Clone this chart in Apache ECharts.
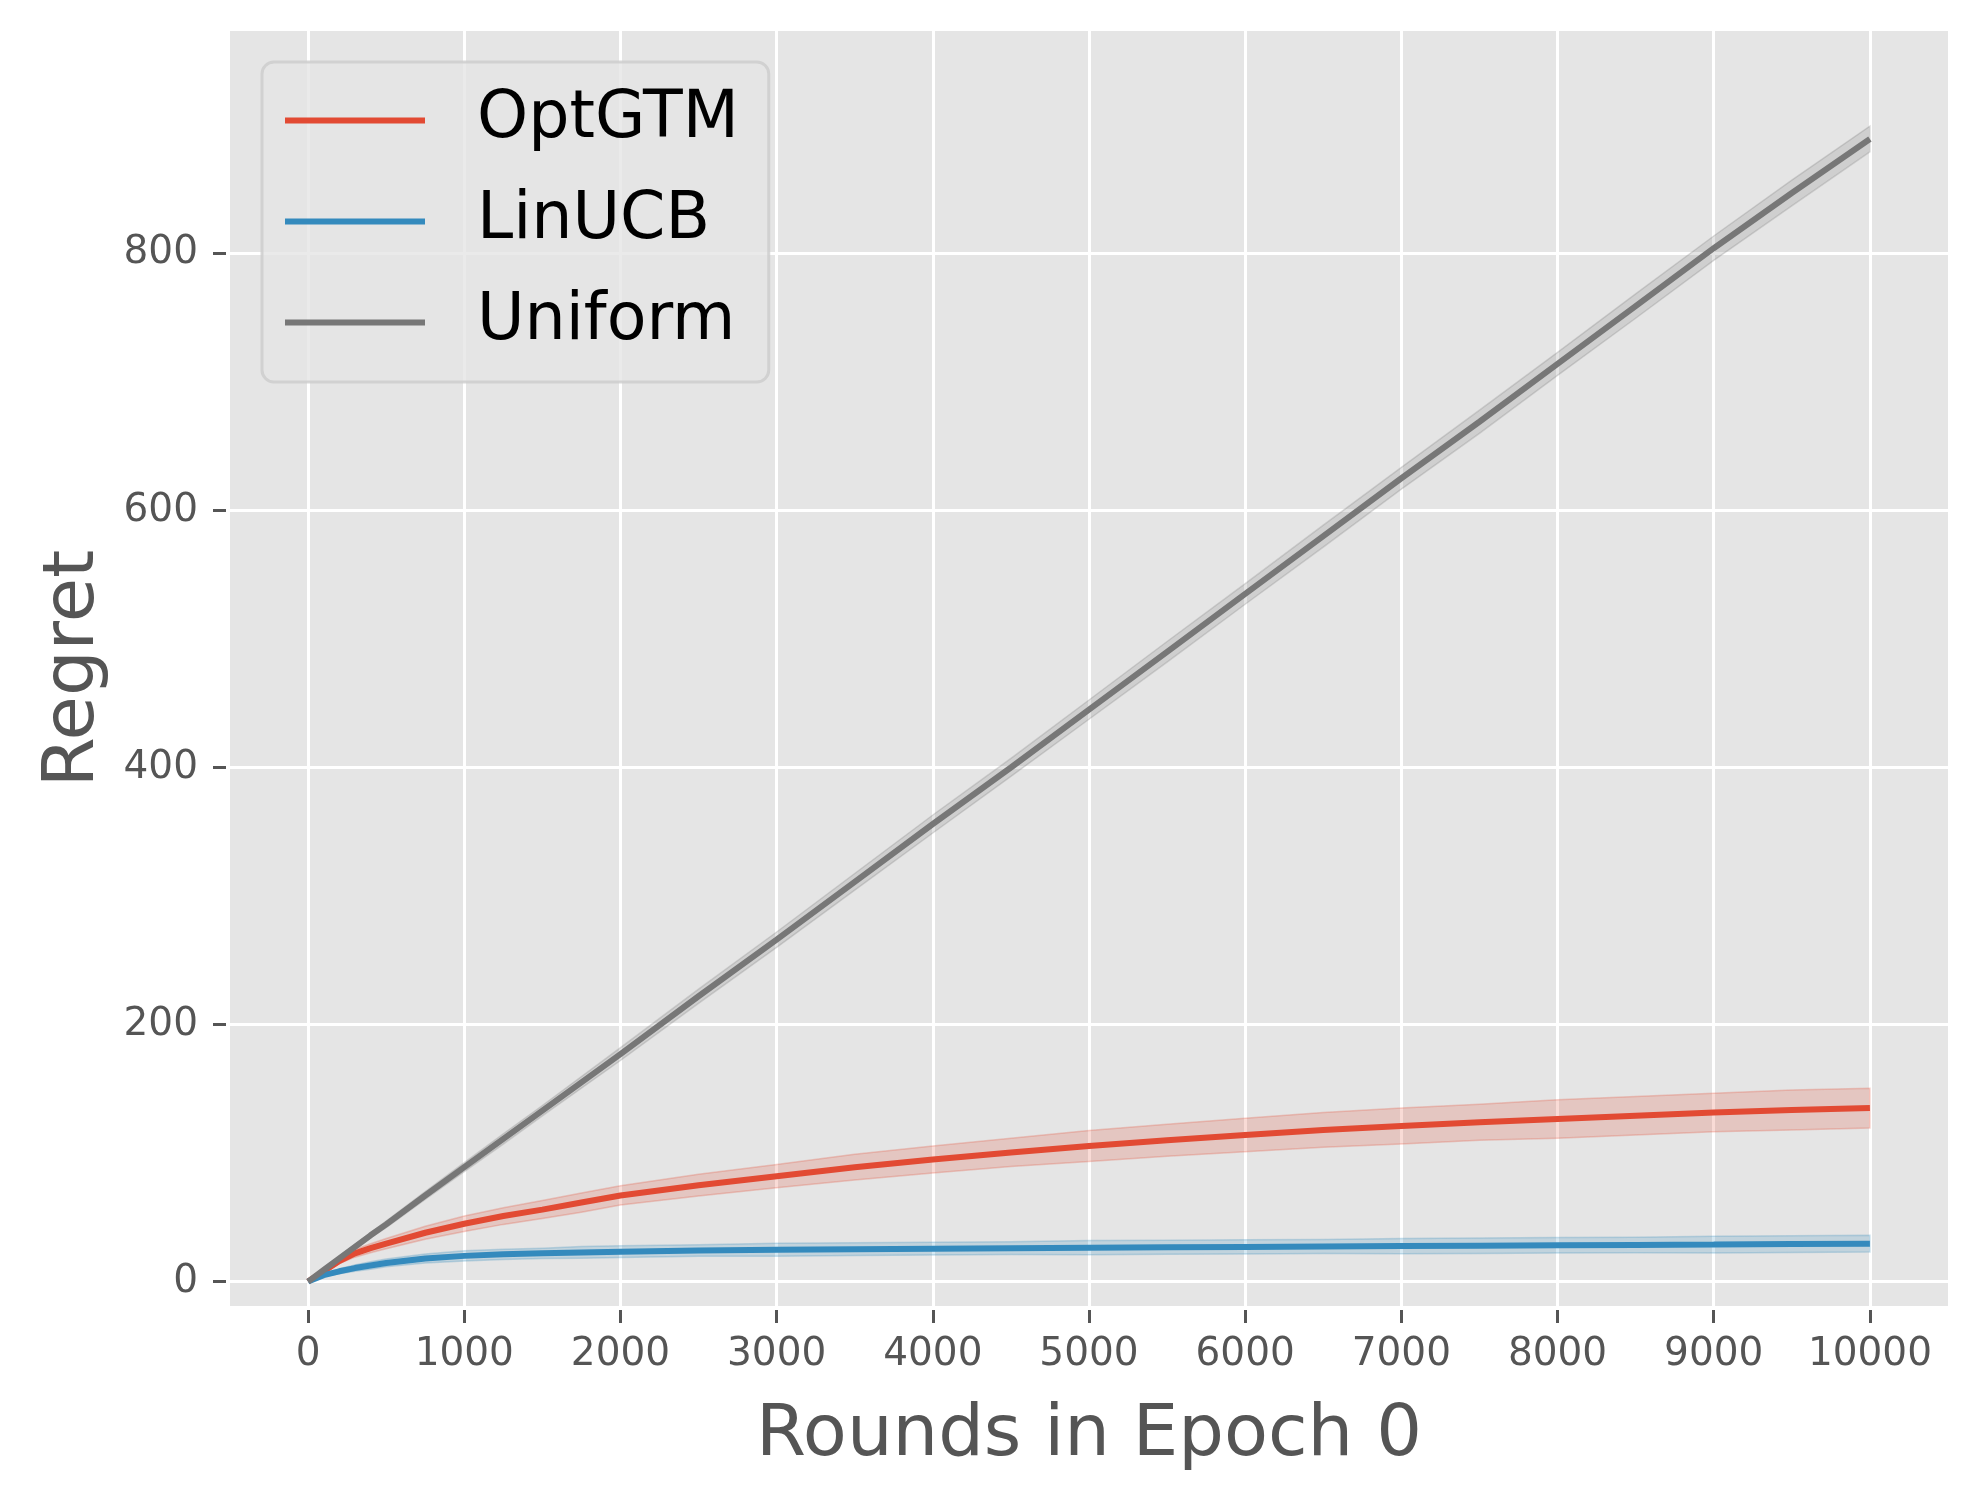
<!DOCTYPE html>
<html>
<head>
<meta charset="utf-8">
<script src="https://cdn.jsdelivr.net/npm/echarts@6/dist/echarts.min.js"></script>
<style>
html, body { margin: 0; padding: 0; background: #fff; }
#chart { width: 1980px; height: 1499px; }
</style>
</head>
<body>
<div id="chart"></div>
<script>
// rounds sampled along the x axis
var rounds = [0, 100, 200, 300, 400, 500, 750, 1000, 1250, 1500, 1750, 2000, 2500, 3000, 3500,
  4000, 4500, 5000, 5500, 6000, 6500, 7000, 7500, 8000, 8500, 9000, 9500, 10000];

// mean regret + half width of the shaded band
var optgtmMean = [0, 8, 16, 22, 26, 29.5, 38, 45, 51, 56, 61.5, 67, 75, 82, 89,
  95, 100.5, 105.5, 110, 114, 118, 121, 124, 126.5, 129, 131.5, 133.5, 135];
var optgtmBand = [0, 1, 2, 3, 3.5, 4, 5, 6, 6.5, 7, 7.5, 7.5, 8.5, 9, 10,
  10.5, 11, 12, 12.5, 13, 13.5, 14, 14, 15, 15, 15, 15.5, 15.5];

var linucbMean = [0, 5, 8, 10.5, 12.5, 14.5, 18, 20, 21.2, 22, 22.7, 23.3, 24.2, 24.8, 25.2,
  25.6, 26, 26.4, 26.7, 27, 27.3, 27.6, 27.9, 28.2, 28.5, 28.8, 29.2, 29.5];
var linucbBand = [0, 1, 2, 2.5, 3, 3, 3.5, 4, 4, 4, 4.5, 4.5, 4.5, 5, 5,
  5, 5, 5.5, 5.5, 5.5, 5.5, 6, 6, 6, 6, 6.5, 6.5, 6.5];

var uniformMean = [0, 9, 18, 27, 36, 44.5, 67, 89, 111, 133, 155, 177, 222, 266, 311,
  356, 400, 445, 490, 535, 580, 625, 669, 714, 759, 804, 847, 889];
var uniformBand = [0, 1, 1.5, 2, 2, 2.5, 3, 3.5, 4, 4, 4.5, 5, 5.5, 6, 6.5,
  7, 7, 7.5, 8, 8, 8.5, 8.5, 9, 9, 9.5, 9.5, 10, 10];

var xTicks = [0, 1000, 2000, 3000, 4000, 5000, 6000, 7000, 8000, 9000, 10000];
var yTicks = [0, 200, 400, 600, 800];

var FONT = 'DejaVu Sans';

function pairs(ys) {
  return rounds.map(function (r, i) { return [r, ys[i]]; });
}

// shaded band as a single polygon through the axis scales
function bandSeries(name, mean, half, fill, edge) {
  var pts = rounds.map(function (r, i) { return [r, mean[i] - half[i], mean[i] + half[i]]; });
  return {
    type: 'custom',
    name: name,
    silent: true,
    data: pts,
    encode: { x: 0, y: [1, 2] },
    renderItem: function (params, api) {
      if (params.dataIndex !== 0) return null;
      var up = pts.map(function (p) { return api.coord([p[0], p[2]]); });
      var lo = pts.map(function (p) { return api.coord([p[0], p[1]]); }).reverse();
      return {
        type: 'polygon',
        shape: { points: up.concat(lo) },
        style: { fill: fill, stroke: edge, lineWidth: 1.5 }
      };
    }
  };
}

function lineSeries(name, mean, color) {
  return {
    type: 'line',
    name: name,
    data: pairs(mean),
    showSymbol: false,
    symbol: 'none',
    lineStyle: { color: color, width: 6 },
    itemStyle: { color: color }
  };
}

var chart = echarts.init(document.getElementById('chart'));

chart.setOption({
  animation: false,
  backgroundColor: '#ffffff',
  textStyle: { fontFamily: FONT },
  grid: {
    left: 230, right: 32, top: 31, bottom: 193,
    show: true, backgroundColor: '#E5E5E5', borderWidth: 0,
    outerBoundsMode: 'none'
  },
  legend: {
    data: ['OptGTM', 'LinUCB', 'Uniform'],
    orient: 'vertical',
    left: 262, top: 62,
    padding: [26, 30, 27, 23],
    itemGap: 36,
    itemWidth: 140,
    itemHeight: 6,
    icon: 'rect',
    backgroundColor: 'rgba(229,229,229,0.8)',
    borderColor: 'rgba(204,204,204,0.8)',
    borderWidth: 3,
    borderRadius: 12,
    textStyle: {
      fontFamily: FONT, fontSize: 65, color: '#000', lineHeight: 64,
      padding: [0, 0, 0, 47]
    }
  },
  xAxis: {
    type: 'value',
    min: -500, max: 10500,
    offset: 4,
    name: 'Rounds in Epoch 0',
    nameLocation: 'middle',
    nameGap: 90,
    nameTextStyle: { fontFamily: FONT, fontSize: 72, color: '#555555' },
    axisLine: { show: false, onZero: false },
    axisTick: { show: true, length: 13, customValues: xTicks, lineStyle: { color: '#555555', width: 3 } },
    axisLabel: {
      customValues: xTicks, margin: 25, fontFamily: FONT, fontSize: 39, color: '#555555',
      formatter: function (v) { return String(v); }
    },
    splitLine: { show: true, lineStyle: { color: '#ffffff', width: 3 } }
  },
  yAxis: {
    type: 'value',
    min: -19, max: 973,
    offset: 4,
    name: 'Regret',
    nameLocation: 'middle',
    nameGap: 116,
    nameTextStyle: { fontFamily: FONT, fontSize: 72, color: '#555555' },
    axisLine: { show: false, onZero: false },
    axisTick: { show: true, length: 13, customValues: yTicks, lineStyle: { color: '#555555', width: 3 } },
    axisLabel: {
      customValues: yTicks, margin: 28, fontFamily: FONT, fontSize: 39, color: '#555555',
      formatter: function (v) { return String(v); }
    },
    splitLine: { show: true, lineStyle: { color: '#ffffff', width: 3 } }
  },
  series: [
    lineSeries('OptGTM', optgtmMean, '#E24A33'),
    bandSeries('OptGTM band', optgtmMean, optgtmBand, 'rgba(226,74,51,0.2)', 'rgba(226,74,51,0.25)'),
    lineSeries('LinUCB', linucbMean, '#348ABD'),
    bandSeries('LinUCB band', linucbMean, linucbBand, 'rgba(52,138,189,0.2)', 'rgba(52,138,189,0.25)'),
    lineSeries('Uniform', uniformMean, '#777777'),
    bandSeries('Uniform band', uniformMean, uniformBand, 'rgba(119,119,119,0.2)', 'rgba(119,119,119,0.25)')
  ]
});
</script>
</body>
</html>
